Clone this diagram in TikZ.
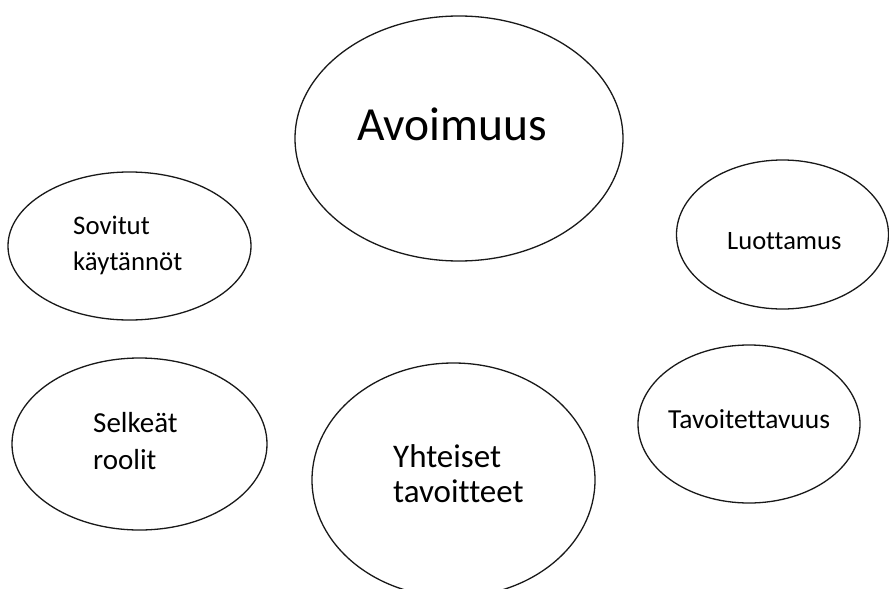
\documentclass[tikz,border=0pt]{standalone}
\usepackage{fontspec}
\setmainfont{Carlito}[Ligatures=CommonOff]
\usetikzlibrary{shapes.geometric}
\begin{document}
\begin{tikzpicture}[x=1pt,y=-1pt,
  bubble/.style={draw=black!90, line width=1.3pt, ellipse, inner sep=0pt},
  lbl/.style={anchor=base west, inner sep=0pt, text=black}]
\useasboundingbox[fill=white] (0,0) rectangle (889,589);
\node[bubble, minimum width=328pt, minimum height=245pt] (avo) at (459,138.5) {};
\node[bubble, minimum width=243pt, minimum height=148pt] (sov) at (129.5,246) {};
\node[bubble, minimum width=212pt, minimum height=149pt] (luo) at (782.5,234.5) {};
\node[bubble, minimum width=255pt, minimum height=172pt] (sel) at (139.5,444) {};
\node[bubble, minimum width=283pt, minimum height=234pt] (yht) at (453.5,480) {};
\node[bubble, minimum width=222pt, minimum height=158pt] (tav) at (749,424) {};
\node[lbl, font=\fontsize{47.5}{56}\selectfont] (tavo) at (357,140) {Avoimuus};
\node[lbl, font=\fontsize{26.8}{32}\selectfont] (tsov1) at (73,234) {Sovitut};
\node[lbl, font=\fontsize{26.8}{32}\selectfont] (tsov2) at (73,270) {käytännöt};
\node[lbl, font=\fontsize{26.5}{32}\selectfont] (tluo) at (727,249) {Luottamus};
\node[lbl, font=\fontsize{29}{34}\selectfont] (tsel1) at (93,432) {Selkeät};
\node[lbl, font=\fontsize{29}{34}\selectfont] (tsel2) at (93,469) {roolit};
\node[lbl, font=\fontsize{33}{36}\selectfont] (tyht1) at (393,467) {Yhteiset};
\node[lbl, font=\fontsize{33}{36}\selectfont] (tyht2) at (393,502) {tavoitteet};
\node[lbl, font=\fontsize{27.5}{30}\selectfont] (ttav) at (668,428) {Tavoitettavuus};
\end{tikzpicture}
\end{document}
